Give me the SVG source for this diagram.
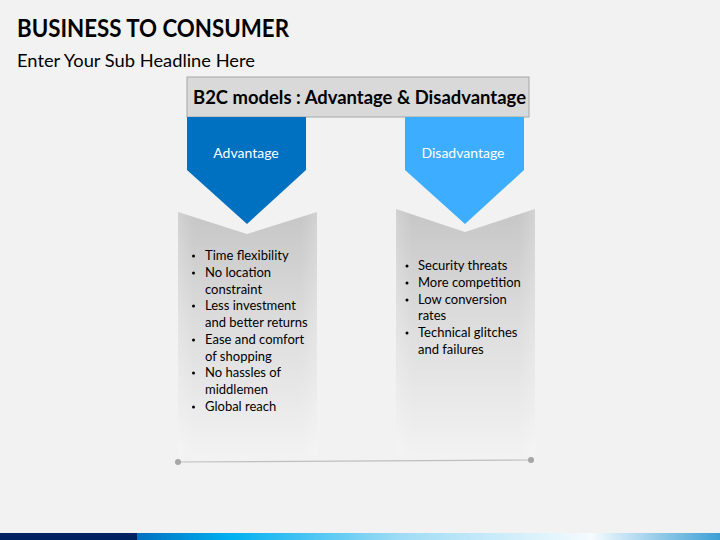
<svg xmlns="http://www.w3.org/2000/svg" width="720" height="540" viewBox="0 0 720 540">
<defs>
<linearGradient id="boxg" x1="0" y1="0" x2="0" y2="1">
<stop offset="0" stop-color="#c6c6c6"/>
<stop offset="0.45" stop-color="#dcdcdc"/>
<stop offset="1" stop-color="#f2f2f2"/>
</linearGradient>
<linearGradient id="sideg" x1="0" y1="0" x2="1" y2="0">
<stop offset="0" stop-color="#ffffff" stop-opacity="0.2"/>
<stop offset="0.12" stop-color="#ffffff" stop-opacity="0"/>
<stop offset="0.88" stop-color="#ffffff" stop-opacity="0"/>
<stop offset="1" stop-color="#ffffff" stop-opacity="0.2"/>
</linearGradient>
<linearGradient id="barg" x1="0" y1="0" x2="1" y2="0">
<stop offset="0" stop-color="#0070c0"/>
<stop offset="0.16" stop-color="#00b0f0"/>
<stop offset="0.45" stop-color="#9edcf5"/>
<stop offset="0.78" stop-color="#f5fbfe"/>
<stop offset="1" stop-color="#3c9fd6"/>
</linearGradient>
<style>
text{font-family:Lato,"Open Sans","Liberation Sans",sans-serif}
.title{font-size:25px;font-weight:bold;fill:#000}
.sub{font-size:18px;fill:#000}
.head{font-size:18px;font-weight:bold;fill:#000}
.lbl{font-size:14px;fill:#fff}
.item{font-size:13px;fill:#000}
.b{fill:#000}
.conn{stroke:#bfbfbf;stroke-width:1.2;fill:none}
.dot{fill:#a6a6a6}
</style>
</defs>
<rect width="720" height="540" fill="#f2f2f2"/>
<text class="title" x="17" y="37" textLength="272" lengthAdjust="spacingAndGlyphs">BUSINESS TO CONSUMER</text>
<text class="sub" x="17" y="67" textLength="238" lengthAdjust="spacingAndGlyphs">Enter Your Sub Headline Here</text>

<g id="header">
<rect x="187" y="77" width="342" height="40" fill="#d9d9d9" stroke="#a6a6a6" stroke-width="1"/>
<text class="head" x="193" y="104" textLength="333" lengthAdjust="spacingAndGlyphs">B2C models : Advantage &amp; Disadvantage</text>
</g>

<g id="adv-box">
<path d="M178,212 L247,234 L317,212 L317,455 L178,455 Z" fill="url(#boxg)"/>
<path d="M178,212 L247,234 L317,212 L317,455 L178,455 Z" fill="url(#sideg)"/>
<g class="b">
<circle cx="193.5" cy="256" r="1.5"/><circle cx="193.5" cy="273" r="1.5"/><circle cx="193.5" cy="306" r="1.5"/>
<circle cx="193.5" cy="340" r="1.5"/><circle cx="193.5" cy="373" r="1.5"/><circle cx="193.5" cy="407" r="1.5"/>
</g>
<g class="item">
<text x="205" y="260">Time flexibility</text>
<text x="205" y="277">No location</text>
<text x="205" y="294">constraint</text>
<text x="205" y="310">Less investment</text>
<text x="205" y="327">and better returns</text>
<text x="205" y="344">Ease and comfort</text>
<text x="205" y="361">of shopping</text>
<text x="205" y="377">No hassles of</text>
<text x="205" y="394">middlemen</text>
<text x="205" y="411">Global reach</text>
</g>
</g>

<g id="dis-box">
<path d="M396,209 L465,232 L535,209 L535,455 L396,455 Z" fill="url(#boxg)"/>
<path d="M396,209 L465,232 L535,209 L535,455 L396,455 Z" fill="url(#sideg)"/>
<g class="b">
<circle cx="407" cy="266" r="1.5"/><circle cx="407" cy="283" r="1.5"/><circle cx="407" cy="300" r="1.5"/><circle cx="407" cy="333" r="1.5"/>
</g>
<g class="item">
<text x="418" y="270">Security threats</text>
<text x="418" y="287">More competition</text>
<text x="418" y="304">Low conversion</text>
<text x="418" y="320">rates</text>
<text x="418" y="337">Technical glitches</text>
<text x="418" y="354">and failures</text>
</g>
</g>

<g id="adv">
<path d="M187,117 L306,117 L306,170 L247,224 L187,170 Z" fill="#0070c0"/>
<text class="lbl" x="246" y="158" text-anchor="middle">Advantage</text>
</g>

<g id="dis">
<path d="M405,117 L524,117 L524,170 L465,224 L405,170 Z" fill="#3daeff"/>
<text class="lbl" x="463" y="158" text-anchor="middle">Disadvantage</text>
</g>

<g id="connectors">
<line class="conn" x1="178" y1="462" x2="531" y2="460"/>
<circle class="dot" cx="178" cy="462" r="3"/>
<circle class="dot" cx="531" cy="460" r="3"/>
</g>

<rect x="0" y="533" width="137" height="7" fill="#002060"/>
<rect x="137" y="533" width="583" height="7" fill="url(#barg)"/>
</svg>
